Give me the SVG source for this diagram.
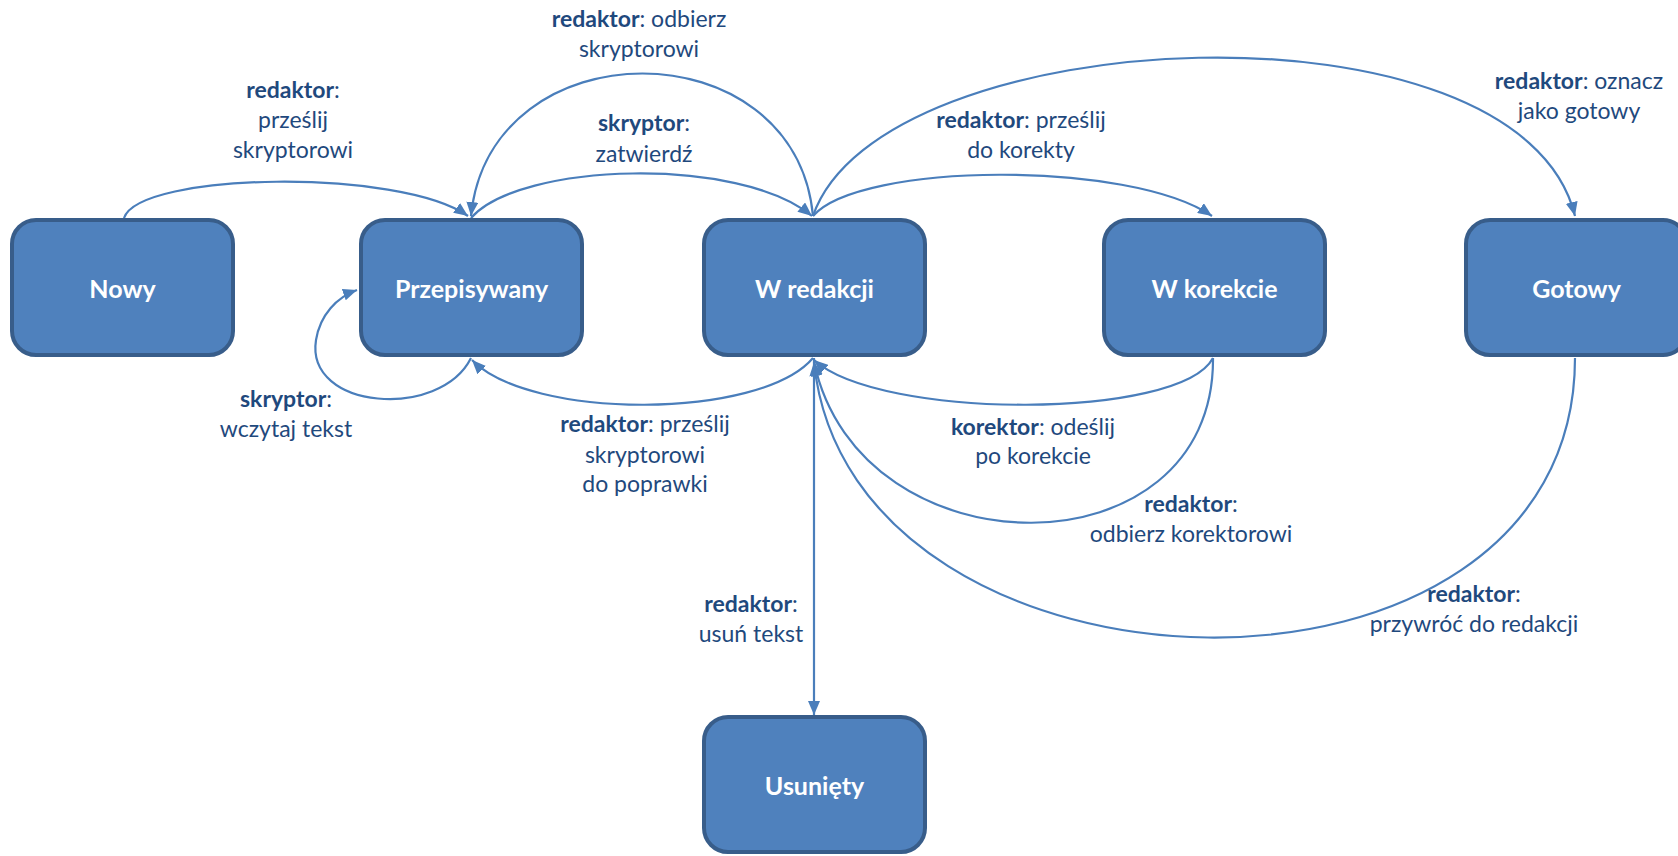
<svg xmlns="http://www.w3.org/2000/svg" width="1678" height="856" viewBox="0 0 1678 856">
<style>
.box{fill:#4F81BD;stroke:#385D8A;stroke-width:4}
.nt{font-family:Lato,"Open Sans",sans-serif;font-size:25px;font-weight:bold;fill:#FFFFFF;text-anchor:middle}
.lb{font-family:Lato,"Open Sans",sans-serif;font-size:23px;fill:#1F497D;text-anchor:middle}
.lb tspan.b{font-weight:bold}
.cn{fill:none;stroke:#4A7EBB;stroke-width:2.2}
</style>
<defs>
<marker id="ah" markerUnits="userSpaceOnUse" markerWidth="15" markerHeight="12" refX="14" refY="6" orient="auto">
<path d="M0,0 L14,6 L0,12 z" fill="#4A7EBB"/>
</marker>
</defs>
<g id="connectors">
<path class="cn" d="M124,218 C140,172 400,168 468,216" marker-end="url(#ah)"/>
<path class="cn" d="M471,218 C520,162 740,156 812,216" marker-end="url(#ah)"/>
<path class="cn" d="M813,216 C795,26 490,26 471,216" marker-end="url(#ah)"/>
<path class="cn" d="M813,216 C860,162 1130,160 1212,216" marker-end="url(#ah)"/>
<path class="cn" d="M813,216 C880,20 1520,-10 1575,216" marker-end="url(#ah)"/>
<path class="cn" d="M1213,358 C1180,420 880,420 814,360" marker-end="url(#ah)"/>
<path class="cn" d="M1213,358 C1215,577 860,577 814,362" marker-end="url(#ah)"/>
<path class="cn" d="M1575,358 C1575,740 850,720 814,362" marker-end="url(#ah)"/>
<path class="cn" d="M813,358 C760,420 530,420 472,360" marker-end="url(#ah)"/>
<path class="cn" d="M471,358 C440,420 305,410 316,340 C320,315 337,297 357,290" marker-end="url(#ah)"/>
<path class="cn" d="M814,358 L814,715" marker-end="url(#ah)"/>
</g>
<g id="node-nowy"><rect class="box" x="12" y="220" width="221" height="135" rx="24"/><text class="nt" x="122.5" y="298">Nowy</text></g>
<g id="node-przepisywany"><rect class="box" x="361" y="220" width="221" height="135" rx="24"/><text class="nt" x="471.5" y="298">Przepisywany</text></g>
<g id="node-wredakcji"><rect class="box" x="704" y="220" width="221" height="135" rx="24"/><text class="nt" x="814.5" y="298">W redakcji</text></g>
<g id="node-wkorekcie"><rect class="box" x="1104" y="220" width="221" height="135" rx="24"/><text class="nt" x="1214.5" y="298">W korekcie</text></g>
<g id="node-gotowy"><rect class="box" x="1466" y="220" width="221" height="135" rx="24"/><text class="nt" x="1576.5" y="298">Gotowy</text></g>
<g id="node-usuniety"><rect class="box" x="704" y="717" width="221" height="135" rx="24"/><text class="nt" x="814.5" y="795">Usunięty</text></g>
<g id="labels">
<text class="lb" x="293" y="98"><tspan class="b">redaktor</tspan>:</text>
<text class="lb" x="293" y="128">prześlij</text>
<text class="lb" x="293" y="158">skryptorowi</text>
<text class="lb" x="639" y="27"><tspan class="b">redaktor</tspan>: odbierz</text>
<text class="lb" x="639" y="57">skryptorowi</text>
<text class="lb" x="644" y="131"><tspan class="b">skryptor</tspan>:</text>
<text class="lb" x="644" y="162">zatwierdź</text>
<text class="lb" x="1021" y="128"><tspan class="b">redaktor</tspan>: prześlij</text>
<text class="lb" x="1021" y="158">do korekty</text>
<text class="lb" x="1579" y="89"><tspan class="b">redaktor</tspan>: oznacz</text>
<text class="lb" x="1579" y="119">jako gotowy</text>
<text class="lb" x="286" y="407"><tspan class="b">skryptor</tspan>:</text>
<text class="lb" x="286" y="437">wczytaj tekst</text>
<text class="lb" x="645" y="432"><tspan class="b">redaktor</tspan>: prześlij</text>
<text class="lb" x="645" y="463">skryptorowi</text>
<text class="lb" x="645" y="492">do poprawki</text>
<text class="lb" x="1033" y="435"><tspan class="b">korektor</tspan>: odeślij</text>
<text class="lb" x="1033" y="464">po korekcie</text>
<text class="lb" x="1191" y="512"><tspan class="b">redaktor</tspan>:</text>
<text class="lb" x="1191" y="542">odbierz korektorowi</text>
<text class="lb" x="751" y="612"><tspan class="b">redaktor</tspan>:</text>
<text class="lb" x="751" y="642">usuń tekst</text>
<text class="lb" x="1474" y="602"><tspan class="b">redaktor</tspan>:</text>
<text class="lb" x="1474" y="632">przywróć do redakcji</text>
</g>
</svg>
